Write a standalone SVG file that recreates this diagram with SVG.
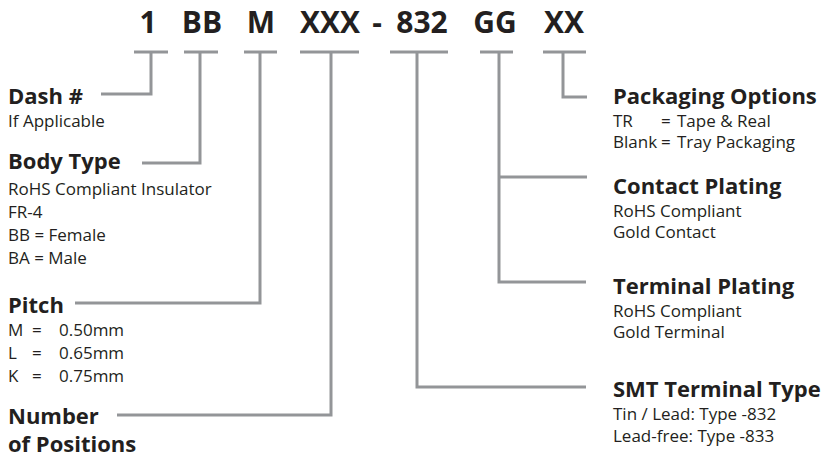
<svg xmlns="http://www.w3.org/2000/svg" width="827" height="458" viewBox="0 0 827 458">
<style>
text{font-family:"Open Sans","Noto Sans","Liberation Sans",sans-serif;fill:#231f20}
.code{font-size:30px;font-weight:700;text-anchor:middle}
.h{font-size:22px;font-weight:700}
.b{font-size:17px}
.ln{fill:none;stroke:#939598;stroke-width:3}
</style>
<rect width="827" height="458" fill="#ffffff"/>
<g id="code">
<text class="code" x="148" y="33">1</text>
<text class="code" x="202" y="33">BB</text>
<text class="code" x="261" y="33">M</text>
<text class="code" x="330" y="33">XXX</text>
<text class="code" x="377" y="33">-</text>
<text class="code" x="422" y="33">832</text>
<text class="code" x="495" y="33">GG</text>
<text class="code" x="564" y="33">XX</text>
</g>
<g id="connectors">
<path class="ln" d="M134 52H168M151 52V94H101"/>
<path class="ln" d="M184 52H218M200 52V163H142"/>
<path class="ln" d="M244 52H277M260 52V303H75"/>
<path class="ln" d="M300 52H359M331 52V415H117"/>
<path class="ln" d="M390 52H448M417 52V387H586"/>
<path class="ln" d="M480 52H513M499 52V282H586M499 177H587"/>
<path class="ln" d="M543 52H586M563 52V97H587"/>
</g>
<g id="dash">
<text class="h" x="8" y="104">Dash #</text>
<text class="b" x="8" y="127">If Applicable</text>
</g>
<g id="body-type">
<text class="h" x="8" y="169">Body Type</text>
<text class="b" x="8" y="195">RoHS Compliant Insulator</text>
<text class="b" x="8" y="218">FR-4</text>
<text class="b" x="8" y="241">BB = Female</text>
<text class="b" x="8" y="264">BA = Male</text>
</g>
<g id="pitch">
<text class="h" x="8" y="313">Pitch</text>
<text class="b" y="336"><tspan x="8">M</tspan><tspan x="32">=</tspan><tspan x="59">0.50mm</tspan></text>
<text class="b" y="359"><tspan x="8">L</tspan><tspan x="32">=</tspan><tspan x="59">0.65mm</tspan></text>
<text class="b" y="382"><tspan x="8">K</tspan><tspan x="32">=</tspan><tspan x="59">0.75mm</tspan></text>
</g>
<g id="positions">
<text class="h" x="8" y="424">Number</text>
<text class="h" x="8" y="452">of Positions</text>
</g>
<g id="packaging">
<text class="h" x="613" y="104">Packaging Options</text>
<text class="b" y="127"><tspan x="613">TR</tspan><tspan x="661">=</tspan><tspan x="677">Tape &amp; Real</tspan></text>
<text class="b" y="148"><tspan x="613">Blank</tspan><tspan x="661">=</tspan><tspan x="677">Tray Packaging</tspan></text>
</g>
<g id="contact-plating">
<text class="h" x="613" y="194">Contact Plating</text>
<text class="b" x="613" y="217">RoHS Compliant</text>
<text class="b" x="613" y="238">Gold Contact</text>
</g>
<g id="terminal-plating">
<text class="h" x="613" y="294">Terminal Plating</text>
<text class="b" x="613" y="317">RoHS Compliant</text>
<text class="b" x="613" y="338">Gold Terminal</text>
</g>
<g id="smt">
<text class="h" x="613" y="397">SMT Terminal Type</text>
<text class="b" x="613" y="420">Tin / Lead: Type -832</text>
<text class="b" x="613" y="442">Lead-free: Type -833</text>
</g>
</svg>
